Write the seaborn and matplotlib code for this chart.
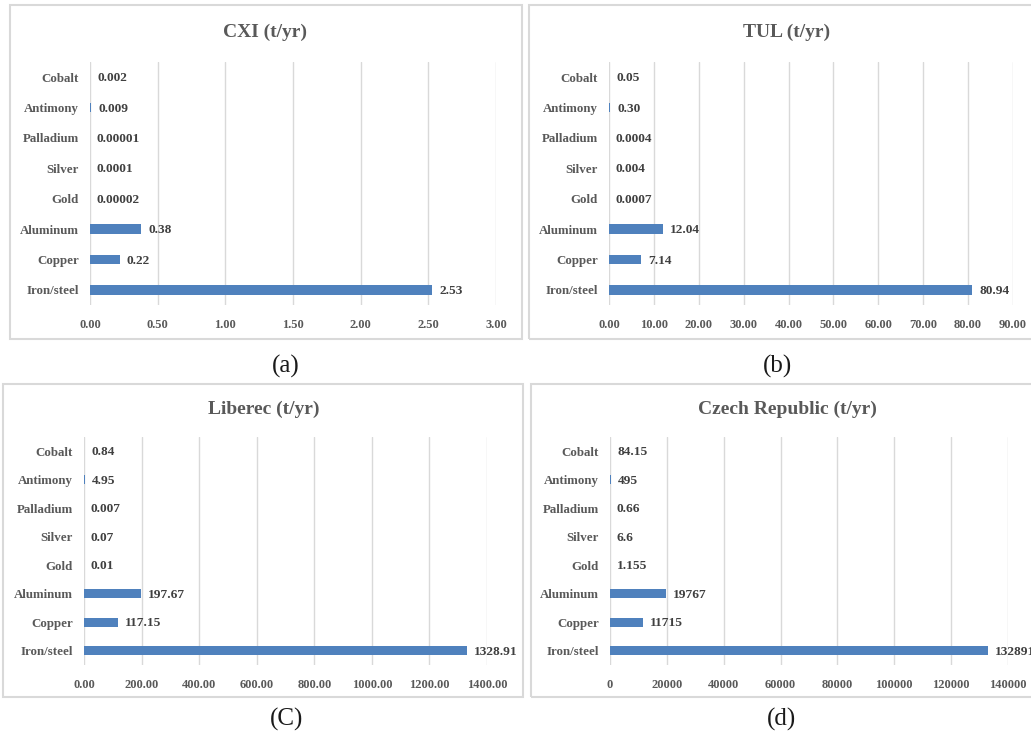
import matplotlib
matplotlib.use("Agg")
import matplotlib.pyplot as plt
from matplotlib.patches import Rectangle
from matplotlib.ticker import FormatStrFormatter
import pandas as pd
import seaborn as sns

# Metal categories, listed top to bottom as shown on each chart
metals = ["Cobalt", "Antimony", "Palladium", "Silver", "Gold",
          "Aluminum", "Copper", "Iron/steel"]

# Recoverable amounts (t/yr), kept as printed next to the bars
cxi_labels = ["0.002", "0.009", "0.00001", "0.0001", "0.00002", "0.38", "0.22", "2.53"]
tul_labels = ["0.05", "0.30", "0.0004", "0.004", "0.0007", "12.04", "7.14", "80.94"]
liberec_labels = ["0.84", "4.95", "0.007", "0.07", "0.01", "197.67", "117.15", "1328.91"]
czech_labels = ["84.15", "495", "0.66", "6.6", "1.155", "19767", "11715", "132891"]

# Axis ticks for each chart
cxi_ticks = [0.0, 0.5, 1.0, 1.5, 2.0, 2.5, 3.0]
tul_ticks = [0, 10, 20, 30, 40, 50, 60, 70, 80, 90]
liberec_ticks = [0, 200, 400, 600, 800, 1000, 1200, 1400]
czech_ticks = [0, 20000, 40000, 60000, 80000, 100000, 120000, 140000]

titles = ["CXI (t/yr)", "TUL (t/yr)", "Liberec (t/yr)", "Czech Republic (t/yr)"]
panel_tags = ["(a)", "(b)", "(C)", "(d)"]

W, H = 1031, 733
BAR = "#4F81BD"
GRID = "#D9D9D9"
TITLE_C = "#595959"
CAT_C = "#595959"
VAL_C = "#404040"
SERIF = ["Liberation Serif", "DejaVu Serif"]

sns.set_theme(style="white")
plt.rcParams["font.family"] = SERIF

fig = plt.figure(figsize=(W / 100, H / 100), dpi=100)


def fx(px):
    return px / W


def fy(py):
    return 1 - py / H


# pixel layout: (axes left, axes right, axes top, axes bottom)
axes_px = [
    (90, 496, 62, 305),
    (609, 1013, 62, 305),
    (84, 487, 437, 665),
    (610, 1008, 437, 665),
]
# chart frames: (left, right, top, bottom)
frames_px = [
    (10, 522, 5, 339),
    (529, 1040, 5, 339),
    (3, 523, 384, 697),
    (531, 1040, 384, 697),
]
title_px = [(265, 32), (787, 32), (264, 409), (787, 409)]
tag_px = [(286, 366), (778, 366), (287, 719), (781, 719)]

datasets = [
    (cxi_labels, cxi_ticks, "%.2f"),
    (tul_labels, tul_ticks, "%.2f"),
    (liberec_labels, liberec_ticks, "%.2f"),
    (czech_labels, czech_ticks, "%d"),
]

for i, (labels, ticks, fmt) in enumerate(datasets):
    l, r, t, b = frames_px[i]
    fig.patches.append(Rectangle((fx(l), fy(b)), fx(r - l), (b - t) / H,
                                 transform=fig.transFigure, fill=False,
                                 edgecolor=GRID, linewidth=1.5, zorder=0))

    al, ar, at, ab = axes_px[i]
    ax = fig.add_axes([fx(al), fy(ab), fx(ar - al), (ab - at) / H])

    df = pd.DataFrame({"metal": metals, "amount": [float(s) for s in labels]})
    sns.barplot(data=df, x="amount", y="metal", orient="h", color=BAR,
                width=0.31, saturation=1, edgecolor="none", ax=ax, zorder=3)

    ax.set_xlim(ticks[0], ticks[-1])
    ax.set_ylim(len(metals) - 0.5, -0.5)
    ax.set_xticks(ticks)
    ax.xaxis.set_major_formatter(FormatStrFormatter(fmt))
    ax.grid(axis="x", color=GRID, linewidth=1.0, zorder=0)
    ax.grid(axis="y", visible=False)
    ax.set_axisbelow(True)
    for s in ax.spines.values():
        s.set_visible(False)
    ax.set_xlabel("")
    ax.set_ylabel("")
    ax.tick_params(axis="x", length=0, pad=10, labelsize=9, labelcolor=TITLE_C)
    ax.tick_params(axis="y", length=0, pad=8, labelsize=9.3, labelcolor=CAT_C)
    for lab in ax.get_xticklabels() + ax.get_yticklabels():
        lab.set_fontweight("bold")

    # value labels at the end of each bar
    for j, s in enumerate(labels):
        ax.annotate(s, xy=(float(s), j), xytext=(5, -0.8),
                    textcoords="offset points", ha="left", va="center",
                    fontsize=9.6, fontweight="bold", color=VAL_C,
                    annotation_clip=False)

    tx, ty = title_px[i]
    fig.text(fx(tx), fy(ty), titles[i], ha="center", va="center",
             fontsize=14, fontweight="bold", color=TITLE_C)

    gx, gy = tag_px[i]
    fig.text(fx(gx), fy(gy), panel_tags[i], ha="center", va="center",
             fontsize=18, color="#1a1a1a")

fig.savefig("out.png", dpi=100)
